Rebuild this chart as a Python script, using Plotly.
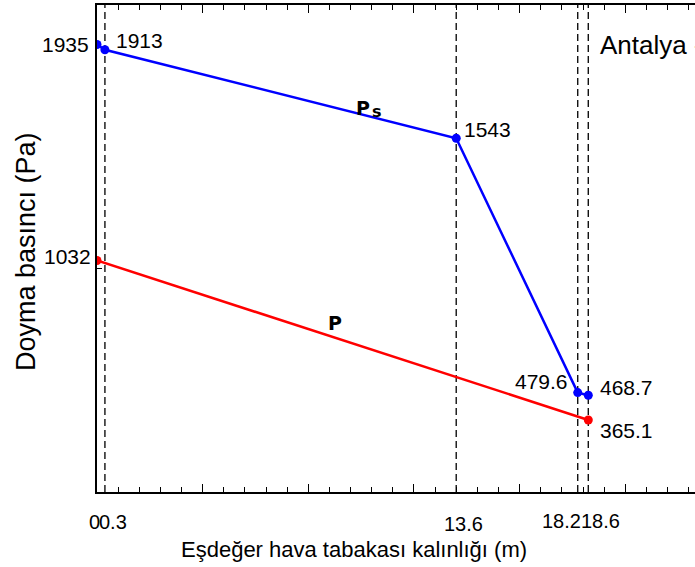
import plotly.graph_objects as go

# ---- data ----
ps_x = [0, 0.3, 13.6, 18.2, 18.6]
ps_y = [1935, 1913, 1543, 479.6, 468.7]
p_x = [0, 18.6]
p_y = [1032, 365.1]
guide_x = [0.3, 13.6, 18.2, 18.6]
tick_vals = [0, 0.3, 13.6, 18.2, 18.6]
tick_text = ["0", "0.3", "13.6", "18.2", "18.6"]
y_label_vals = [1935, 1032]
point_labels = ["1913", "1543", "479.6", "468.7", "365.1"]
point_label_x = [0.3, 13.6, 18.2, 18.6, 18.6]
point_label_y = [1913, 1543, 479.6, 468.7, 365.1]

FONT = "Liberation Sans, Arial, sans-serif"
L, T, W, H = 97, 5, 598, 487


def px(xp):
    return (xp - L) / W


def py(yp):
    return 1 - (yp - T) / H


fig = go.Figure()
fig.add_trace(go.Scatter(x=ps_x, y=ps_y, mode="lines+markers",
                         line=dict(color="#0000ff", width=2.5),
                         marker=dict(color="#0000ff", size=9), showlegend=False))
fig.add_trace(go.Scatter(x=p_x, y=p_y, mode="lines+markers",
                         line=dict(color="#ff0000", width=2.5),
                         marker=dict(color="#ff0000", size=9), showlegend=False))

for gx in guide_x:
    fig.add_shape(type="line", xref="x", yref="paper", x0=gx, x1=gx, y0=0, y1=1,
                  line=dict(color="#111111", width=1.4, dash="7px,4px"), layer="below")

ann = []
# x tick labels
tick_shift = [-3, 8, 7, -16, 12]
tick_yshift = [-17, -17, -19, -16, -16]
for v, t, s, ys in zip(tick_vals, tick_text, tick_shift, tick_yshift):
    ann.append(dict(x=v, y=0, xref="x", yref="paper", text=t, showarrow=False,
                    xanchor="center", yanchor="top", xshift=s, yshift=ys,
                    font=dict(size=20, family=FONT, color="black")))
# y value labels at axis
for v, ys, xs in zip(y_label_vals, [0, 4], [-6, -4]):
    ann.append(dict(x=0, y=v, xref="x", yref="y", text=str(v), showarrow=False,
                    xanchor="right", yanchor="middle", xshift=xs, yshift=ys,
                    font=dict(size=21, family=FONT, color="black")))
# point labels
pl_anchor = ["left", "left", "right", "left", "left"]
pl_xs = [9, 6, -8, 10, 10]
pl_ys = [9, 9, 11, 8, -11]
for t, x0, y0, a, xs, ys in zip(point_labels, point_label_x, point_label_y, pl_anchor, pl_xs, pl_ys):
    ann.append(dict(x=x0, y=y0, xref="x", yref="y", text=t, showarrow=False,
                    xanchor=a, yanchor="middle", xshift=xs, yshift=ys,
                    font=dict(size=21, family=FONT, color="black")))
# series labels
ann.append(dict(x=px(363), y=py(95), xref="paper", yref="paper", text="<b>P</b>", showarrow=False,
                font=dict(size=19, family="DejaVu Sans, sans-serif", color="black")))
ann.append(dict(x=px(377), y=py(100), xref="paper", yref="paper", text="<b>s</b>", showarrow=False,
                font=dict(size=16, family="DejaVu Sans, sans-serif", color="black")))
ann.append(dict(x=px(335), y=py(323), xref="paper", yref="paper", text="<b>P</b>", showarrow=False,
                font=dict(size=19, family="DejaVu Sans, sans-serif", color="black")))
# location label
ann.append(dict(x=px(598), y=py(45), xref="paper", yref="paper", text="Antalya -", showarrow=False,
                xanchor="left", yanchor="middle",
                font=dict(size=26, family=FONT, color="black")))
# axis titles
ann.append(dict(x=px(354), y=py(549), xref="paper", yref="paper",
                text="Eşdeğer hava tabakası kalınlığı (m)", showarrow=False,
                xanchor="center", yanchor="middle",
                font=dict(size=22, family=FONT, color="black")))
ann.append(dict(x=px(26), y=py(252), xref="paper", yref="paper",
                text="Doyma basıncı (Pa)", showarrow=False, textangle=-90,
                xanchor="center", yanchor="middle",
                font=dict(size=27, family=FONT, color="black")))

fig.update_layout(
    width=695, height=567,
    margin=dict(l=L, r=0, t=T, b=567 - T - H),
    plot_bgcolor="white", paper_bgcolor="white",
    annotations=ann,
    xaxis=dict(range=[0, 22.64], showgrid=False, zeroline=False,
               showline=True, linecolor="black", linewidth=1.5, mirror="ticks",
               tickmode="linear", tick0=0, dtick=4, ticks="inside", ticklen=8,
               tickwidth=1.4, tickcolor="black", showticklabels=False,
               minor=dict(dtick=0.8, tick0=0, ticks="inside", ticklen=5,
                          tickwidth=1.3, tickcolor="black")),
    yaxis=dict(range=[64, 2100], showgrid=False, zeroline=False,
               showline=True, linecolor="black", linewidth=1.5,
               tickmode="array", tickvals=[1000], ticks="inside", ticklen=5,
               tickwidth=1.3, tickcolor="black", showticklabels=False),
)

fig.write_html("out.html", config={"displayModeBar": False},
               post_script="document.body.style.margin='0px';document.body.style.overflow='hidden';")
